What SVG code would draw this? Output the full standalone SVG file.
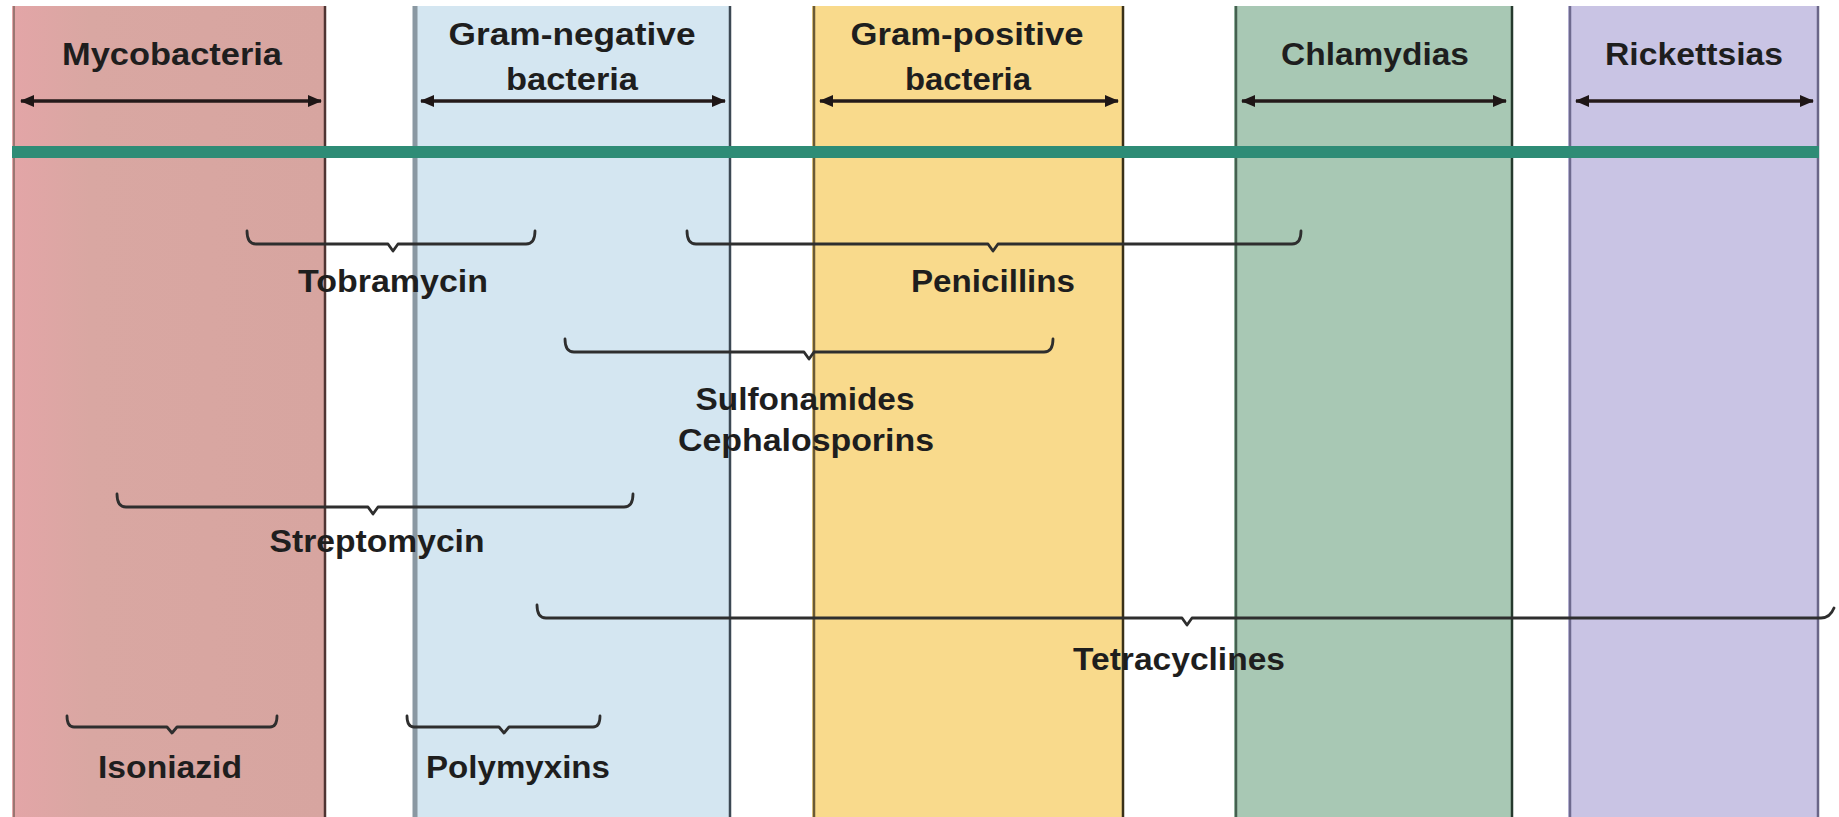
<svg xmlns="http://www.w3.org/2000/svg" width="1839" height="817" viewBox="0 0 1839 817">
<defs>
<style>
.t{font-family:"Liberation Sans","Arial",sans-serif;font-weight:bold;font-size:31px;fill:#1e1e1e;text-anchor:middle}
.br{fill:none;stroke:#2e2e2e;stroke-width:2.8;stroke-linejoin:round;stroke-linecap:round}
.ar{stroke:#241a1a;stroke-width:3.6}
</style>
<marker id="ah" viewBox="0 0 14 12" refX="13" refY="6" markerWidth="14" markerHeight="12" markerUnits="userSpaceOnUse" orient="auto-start-reverse">
<path d="M0,0 L14,6 L0,12 Z" fill="#1e1616"/>
</marker>
<linearGradient id="gm" x1="0" y1="0" x2="1" y2="0">
<stop offset="0" stop-color="#e3a5a7"/>
<stop offset="0.25" stop-color="#d9a7a2"/>
<stop offset="1" stop-color="#d7a5a0"/>
</linearGradient>
</defs>

<g id="col-mycobacteria">
<rect x="12" y="6" width="314" height="811" fill="url(#gm)"/>
<line x1="14" y1="6" x2="14" y2="817" stroke="#9a7672" stroke-width="2"/>
<line x1="325" y1="6" x2="325" y2="817" stroke="#4e3432" stroke-width="2.5"/>
<text class="t" x="172" y="65" textLength="220" lengthAdjust="spacingAndGlyphs">Mycobacteria</text>
</g>

<g id="col-gram-negative">
<rect x="413" y="6" width="318" height="811" fill="#d4e6f1"/>
<line x1="415" y1="6" x2="415" y2="817" stroke="#8a98a2" stroke-width="5"/>
<line x1="730" y1="6" x2="730" y2="817" stroke="#3c4853" stroke-width="2.5"/>
<text class="t" x="572" y="45" textLength="247" lengthAdjust="spacingAndGlyphs" fill="#1f2b36">Gram-negative</text>
<text class="t" x="572" y="90" textLength="132" lengthAdjust="spacingAndGlyphs" fill="#1f2b36">bacteria</text>
</g>

<g id="col-gram-positive">
<rect x="812" y="6" width="312" height="811" fill="#f9da8c"/>
<line x1="814" y1="6" x2="814" y2="817" stroke="#6a5a36" stroke-width="2.5"/>
<line x1="1123" y1="6" x2="1123" y2="817" stroke="#3a3018" stroke-width="2.5"/>
<text class="t" x="967" y="45" textLength="233" lengthAdjust="spacingAndGlyphs" fill="#2a2410">Gram-positive</text>
<text class="t" x="968" y="90" textLength="126" lengthAdjust="spacingAndGlyphs" fill="#2a2410">bacteria</text>
</g>

<g id="col-chlamydias">
<rect x="1234" y="6" width="279" height="811" fill="#a8c8b4"/>
<line x1="1236" y1="6" x2="1236" y2="817" stroke="#45604f" stroke-width="2.5"/>
<line x1="1512" y1="6" x2="1512" y2="817" stroke="#263a2e" stroke-width="2.5"/>
<text class="t" x="1375" y="65" textLength="188" lengthAdjust="spacingAndGlyphs" fill="#1a2620">Chlamydias</text>
</g>

<g id="col-rickettsias">
<rect x="1568" y="6" width="251" height="811" fill="#c9c4e4"/>
<line x1="1570" y1="6" x2="1570" y2="817" stroke="#6e6a8e" stroke-width="2.5"/>
<line x1="1818" y1="6" x2="1818" y2="817" stroke="#6a6688" stroke-width="2.5"/>
<text class="t" x="1694" y="65" textLength="178" lengthAdjust="spacingAndGlyphs" fill="#1c1a2e">Rickettsias</text>
</g>

<g id="connectors">
<line class="ar" x1="21" y1="101" x2="321" y2="101" marker-start="url(#ah)" marker-end="url(#ah)"/>
<line class="ar" x1="421" y1="101" x2="725" y2="101" marker-start="url(#ah)" marker-end="url(#ah)"/>
<line class="ar" x1="820" y1="101" x2="1118" y2="101" marker-start="url(#ah)" marker-end="url(#ah)"/>
<line class="ar" x1="1242" y1="101" x2="1506" y2="101" marker-start="url(#ah)" marker-end="url(#ah)"/>
<line class="ar" x1="1576" y1="101" x2="1813" y2="101" marker-start="url(#ah)" marker-end="url(#ah)"/>
<rect x="12" y="146" width="1807" height="12" fill="#2e8c76"/>

<path class="br" d="M247,231 Q247,244 256,244 L388,244 L393,251 L398,244 L526,244 Q535,244 535,231"/>
<path class="br" d="M687,231 Q687,244 696,244 L988,244 L993,251 L998,244 L1292,244 Q1301,244 1301,231"/>
<path class="br" d="M565,339 Q565,352 574,352 L804,352 L809,359 L814,352 L1044,352 Q1053,352 1053,339"/>
<path class="br" d="M117,494 Q117,507 126,507 L368,507 L373,514 L378,507 L624,507 Q633,507 633,494"/>
<path class="br" d="M537,605 Q537,618 546,618 L1182,618 L1187,625 L1192,618 L1821,618 Q1830,618 1834,608"/>
<path class="br" d="M67,716 Q67,727 74,727 L167,727 L172,733 L177,727 L270,727 Q277,727 277,716"/>
<path class="br" d="M407,716 Q407,727 414,727 L499,727 L504,733 L509,727 L593,727 Q600,727 600,716"/>
</g>

<g id="label-tobramycin"><text class="t" x="393" y="292" textLength="190" lengthAdjust="spacingAndGlyphs">Tobramycin</text></g>
<g id="label-penicillins"><text class="t" x="993" y="292" textLength="164" lengthAdjust="spacingAndGlyphs">Penicillins</text></g>
<g id="label-sulfonamides"><text class="t" x="805" y="410" textLength="219" lengthAdjust="spacingAndGlyphs">Sulfonamides</text></g>
<g id="label-cephalosporins"><text class="t" x="806" y="451" textLength="256" lengthAdjust="spacingAndGlyphs">Cephalosporins</text></g>
<g id="label-streptomycin"><text class="t" x="377" y="552" textLength="215" lengthAdjust="spacingAndGlyphs">Streptomycin</text></g>
<g id="label-tetracyclines"><text class="t" x="1179" y="670" textLength="212" lengthAdjust="spacingAndGlyphs">Tetracyclines</text></g>
<g id="label-isoniazid"><text class="t" x="170" y="778" textLength="144" lengthAdjust="spacingAndGlyphs">Isoniazid</text></g>
<g id="label-polymyxins"><text class="t" x="518" y="778" textLength="184" lengthAdjust="spacingAndGlyphs">Polymyxins</text></g>
</svg>
